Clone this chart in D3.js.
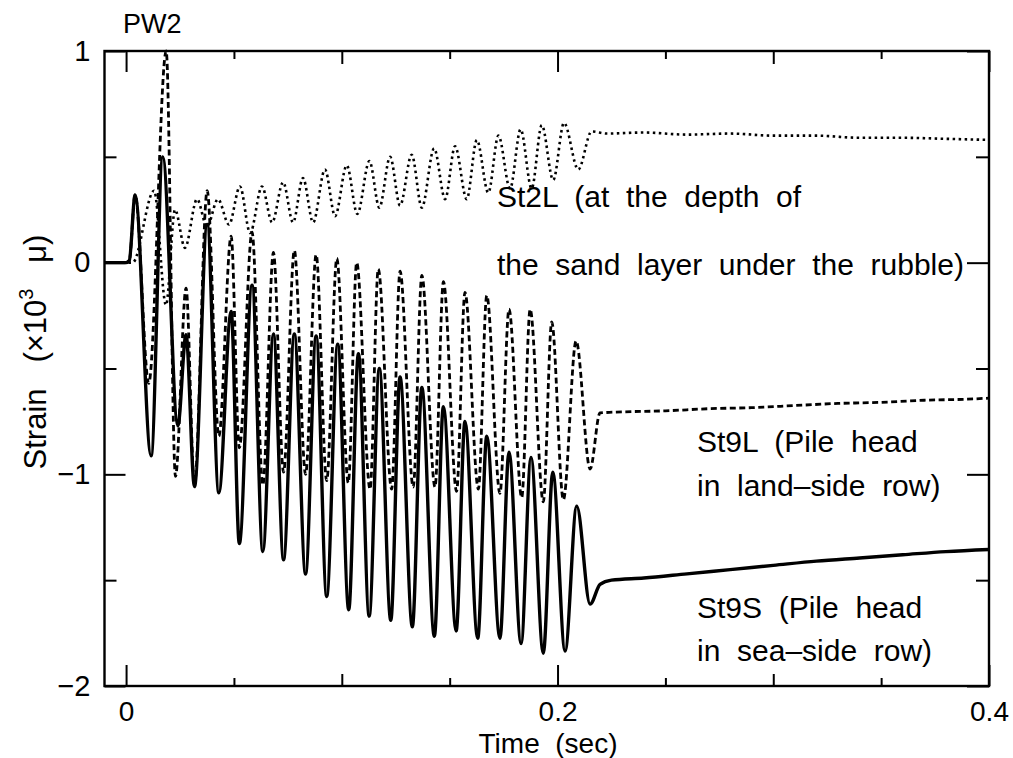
<!DOCTYPE html>
<html>
<head>
<meta charset="utf-8">
<script src="https://cdn.jsdelivr.net/npm/d3@7/dist/d3.min.js"></script>
<style>
  html, body { margin: 0; padding: 0; background: #fff; }
  svg { display: block; }
  text { font-family: "Liberation Sans", Arial, sans-serif; fill: #000; white-space: pre; }
</style>
</head>
<body>
<svg id="chart" width="1013" height="758"></svg>
<script>
// Strain records, time in seconds, strain in 10^3 micro
const st9S = [
  [-0.01, 0.0], [0.0, 0.0], [0.0015, 0.01], [0.0042, 0.32], [0.0116, -0.913],
  [0.017, 0.50], [0.024, -0.77], [0.0278, -0.34], [0.0317, -1.058], [0.0376, 0.18],
  [0.043, -1.087], [0.0487, -0.23], [0.0525, -1.327], [0.0584, -0.106], [0.0634, -1.365],
  [0.0683, -0.337], [0.073, -1.404], [0.078, -0.337], [0.0832, -1.471], [0.0881, -0.346],
  [0.093, -1.577], [0.0981, -0.385], [0.1032, -1.64], [0.1077, -0.43], [0.1127, -1.67],
  [0.1174, -0.50], [0.1227, -1.69], [0.127, -0.54], [0.1327, -1.72], [0.1371, -0.59],
  [0.1429, -1.765], [0.1471, -0.68], [0.153, -1.74], [0.1571, -0.75], [0.163, -1.775],
  [0.1672, -0.82], [0.1733, -1.775], [0.1775, -0.895], [0.1831, -1.80], [0.1877, -0.92],
  [0.1934, -1.845], [0.1978, -0.99], [0.2035, -1.835], [0.2089, -1.15], [0.2151, -1.613],
  [0.2197, -1.52], [0.225, -1.50], [0.24, -1.49], [0.26, -1.47], [0.28, -1.45],
  [0.30, -1.43], [0.32, -1.41], [0.34, -1.395], [0.36, -1.38], [0.38, -1.365], [0.4, -1.355]
];

const st9L = [
  [-0.01, 0.0], [0.0, 0.0], [0.0015, 0.01], [0.0042, 0.32], [0.0105, -0.57],
  [0.0186, 1.0], [0.0229, -1.01], [0.0278, -0.12], [0.0317, -1.05], [0.0376, 0.34],
  [0.043, -0.82], [0.0487, 0.125], [0.0525, -0.875], [0.0584, 0.144], [0.0634, -1.05],
  [0.0683, 0.048], [0.073, -0.99], [0.078, 0.058], [0.0832, -1.0], [0.0881, 0.038],
  [0.093, -1.03], [0.0977, 0.02], [0.103, -1.04], [0.1069, 0.0], [0.1131, -1.07],
  [0.1169, -0.03], [0.1231, -1.07], [0.127, -0.04], [0.1331, -1.06], [0.1371, -0.06],
  [0.1432, -1.06], [0.1471, -0.09], [0.1532, -1.08], [0.1571, -0.14], [0.1633, -1.07],
  [0.1672, -0.155], [0.1733, -1.09], [0.1775, -0.22], [0.1834, -1.11], [0.1873, -0.22],
  [0.1934, -1.13], [0.1973, -0.28], [0.2027, -1.12], [0.2086, -0.37], [0.2151, -0.975],
  [0.2197, -0.71], [0.23, -0.705], [0.25, -0.70], [0.27, -0.69], [0.29, -0.685],
  [0.31, -0.675], [0.33, -0.665], [0.35, -0.66], [0.37, -0.65], [0.39, -0.645], [0.4, -0.64]
];

const st2L = [
  [-0.01, 0.0], [0.0, 0.0], [0.003, 0.0], [0.013, 0.34], [0.0185, -0.2],
  [0.0227, 0.25], [0.0273, 0.07], [0.0329, 0.30], [0.0375, 0.17], [0.0426, 0.30],
  [0.0477, 0.18], [0.0528, 0.36], [0.0575, 0.14], [0.063, 0.36], [0.0677, 0.19],
  [0.0728, 0.38], [0.0774, 0.19], [0.082, 0.40], [0.0867, 0.19], [0.0922, 0.44],
  [0.0969, 0.22], [0.1023, 0.46], [0.1072, 0.23], [0.1128, 0.48], [0.1174, 0.26],
  [0.1224, 0.50], [0.127, 0.27], [0.1324, 0.51], [0.1371, 0.26], [0.1428, 0.54],
  [0.1479, 0.30], [0.1525, 0.55], [0.1579, 0.30], [0.1626, 0.58], [0.1679, 0.33],
  [0.1726, 0.60], [0.178, 0.35], [0.1829, 0.63], [0.188, 0.35], [0.1927, 0.65],
  [0.198, 0.39], [0.203, 0.66], [0.2096, 0.44], [0.2158, 0.62], [0.2228, 0.61],
  [0.24, 0.615], [0.26, 0.605], [0.28, 0.61], [0.30, 0.60], [0.32, 0.60],
  [0.34, 0.59], [0.36, 0.59], [0.38, 0.585], [0.4, 0.58]
];

const xMajorTicks = [0, 0.2, 0.4];
const xMediumTicks = [0.1, 0.3];
const xMinorTicks = [0.05, 0.15, 0.25, 0.35];
const yMajorTicks = [1, 0, -1, -2];
const yMinorTicks = [0.5, -0.5, -1.5];

const svg = d3.select("#chart");
const W = 1013, H = 758;
const frameLeft = 104.5, frameRight = 989, frameTop = 51, frameBottom = 686;
const FONT = "'Liberation Sans', Arial, sans-serif";

const x = d3.scaleLinear().domain([-0.01, 0.4]).range([frameLeft, frameRight]);
const y = d3.scaleLinear().domain([-2, 1]).range([frameBottom, frameTop]);

svg.append("rect").attr("width", W).attr("height", H).attr("fill", "#fff");

const line = d3.line()
  .x(d => x(d[0]))
  .y(d => y(d[1]))
  .curve(d3.curveMonotoneX);

const plot = svg.append("g");

plot.append("path").datum(st2L)
  .attr("d", line).attr("fill", "none").attr("stroke", "#000")
  .attr("stroke-width", 2.6).attr("stroke-dasharray", "2.5,3.5");

plot.append("path").datum(st9L)
  .attr("d", line).attr("fill", "none").attr("stroke", "#000")
  .attr("stroke-width", 2.8).attr("stroke-dasharray", "6,3.5");

plot.append("path").datum(st9S)
  .attr("d", line).attr("fill", "none").attr("stroke", "#000")
  .attr("stroke-width", 3.4).attr("stroke-linejoin", "round");

// Inward tick marks on all four sides
function ticks(axisFn, scale, values, size, transform) {
  const g = svg.append("g").attr("transform", transform)
    .call(axisFn(scale).tickValues(values).tickSize(size).tickFormat(""));
  g.select(".domain").remove();
  g.selectAll(".tick line").attr("stroke", "#000").attr("stroke-width", 2);
  return g;
}
ticks(d3.axisBottom, x, xMajorTicks, -21, `translate(0,${frameBottom})`);
ticks(d3.axisBottom, x, xMediumTicks, -12, `translate(0,${frameBottom})`);
ticks(d3.axisBottom, x, xMinorTicks, -8, `translate(0,${frameBottom})`);
ticks(d3.axisTop, x, xMajorTicks, -21, `translate(0,${frameTop})`);
ticks(d3.axisTop, x, xMediumTicks, -13, `translate(0,${frameTop})`);
ticks(d3.axisTop, x, xMinorTicks, -8, `translate(0,${frameTop})`);
ticks(d3.axisLeft, y, yMajorTicks, -21, `translate(${frameLeft},0)`);
ticks(d3.axisLeft, y, yMinorTicks, -12, `translate(${frameLeft},0)`);
ticks(d3.axisRight, y, yMajorTicks, -22, `translate(${frameRight},0)`);
ticks(d3.axisRight, y, yMinorTicks, -13, `translate(${frameRight},0)`);

// Tick labels
const fmtX = d => d === 0 ? "0" : d3.format(".1f")(d);
const xLab = svg.append("g").attr("transform", `translate(0,${frameBottom})`)
  .call(d3.axisBottom(x).tickValues(xMajorTicks).tickSize(0).tickPadding(15).tickFormat(fmtX));
xLab.select(".domain").remove();
xLab.selectAll("text").style("font-family", FONT).style("font-size", "28px").attr("fill", "#000");

const fmtY = d => d < 0 ? "\u2212" + Math.abs(d) : String(d);
const yLab = svg.append("g").attr("transform", `translate(${frameLeft},0)`)
  .call(d3.axisLeft(y).tickValues(yMajorTicks).tickSize(0).tickPadding(14).tickFormat(fmtY));
yLab.select(".domain").remove();
yLab.selectAll("text").style("font-family", FONT).style("font-size", "29px").attr("fill", "#000");

// Frame
svg.append("rect")
  .attr("x", frameLeft).attr("y", frameTop)
  .attr("width", frameRight - frameLeft).attr("height", frameBottom - frameTop)
  .attr("fill", "none").attr("stroke", "#000").attr("stroke-width", 2.4);

// Titles
svg.append("text").attr("x", 123).attr("y", 33).style("font-size", "27px").text("PW2");

svg.append("text").attr("x", 548).attr("y", 753)
  .attr("text-anchor", "middle").style("font-size", "28px").text("Time  (sec)");

const yTitle = svg.append("text")
  .attr("transform", `translate(46,352) rotate(-90)`)
  .attr("text-anchor", "middle").style("font-size", "31px");
yTitle.append("tspan").text("Strain   (\u00d710");
yTitle.append("tspan").attr("dy", -13).style("font-size", "20px").text("3");
yTitle.append("tspan").attr("dy", 13).text("   \u03bc)");

// Series annotations
const notes = [
  ["St2L  (at  the  depth  of", 497, 207],
  ["the  sand  layer  under  the  rubble)", 497, 275],
  ["St9L  (Pile  head", 697, 452],
  ["in  land\u2013side  row)", 697, 496],
  ["St9S  (Pile  head", 697, 618],
  ["in  sea\u2013side  row)", 697, 661]
];
svg.selectAll("text.note").data(notes).join("text")
  .attr("class", "note")
  .attr("x", d => d[1]).attr("y", d => d[2])
  .style("font-size", "30px")
  .text(d => d[0]);
</script>
</body>
</html>
